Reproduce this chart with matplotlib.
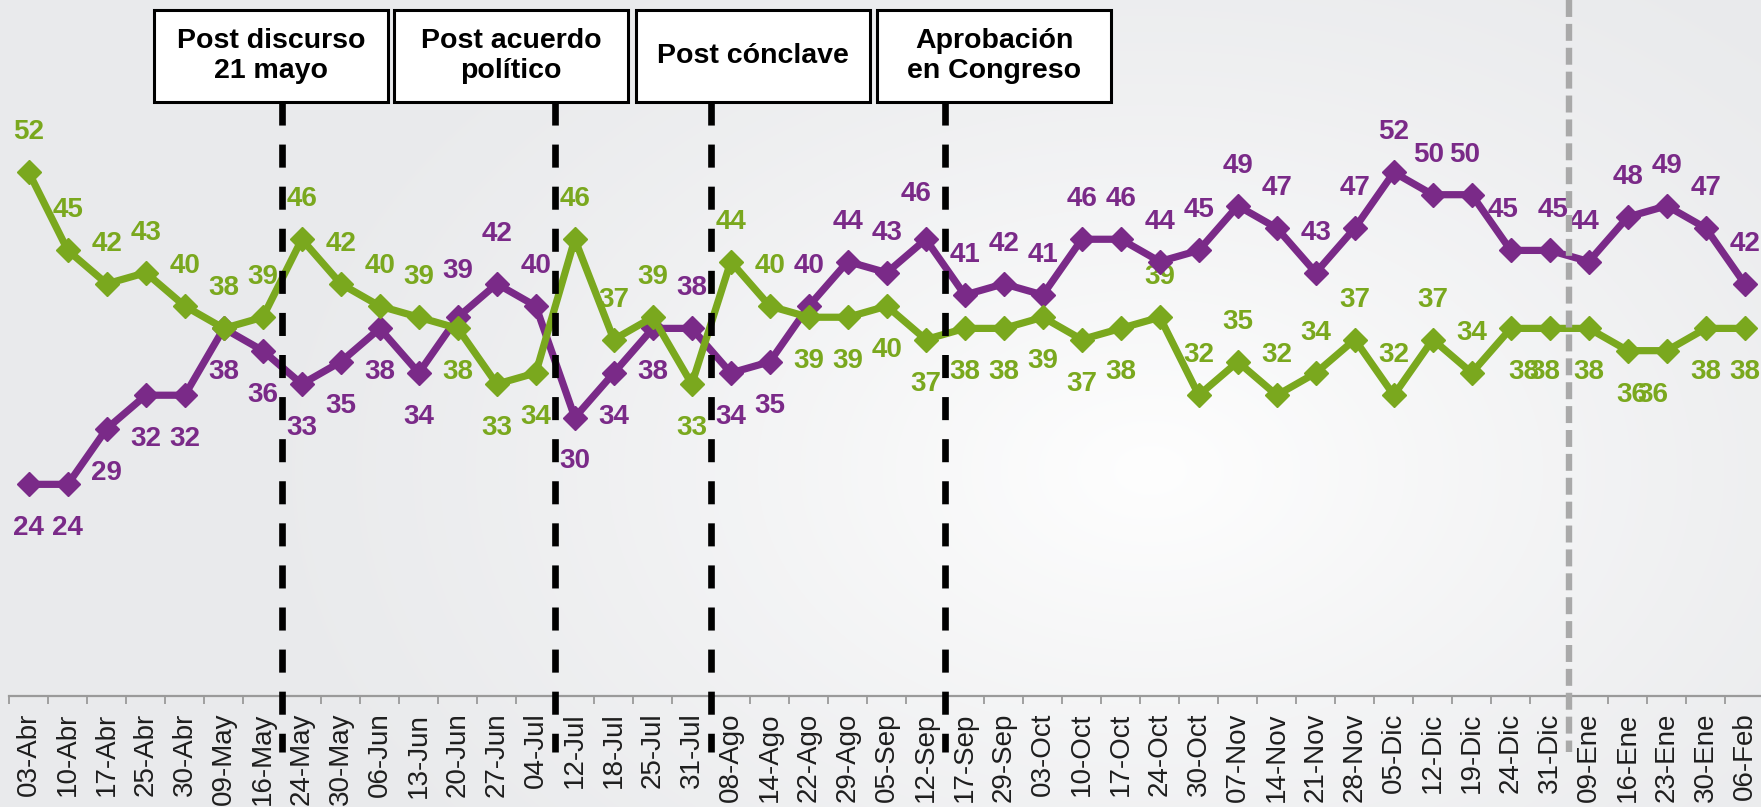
import numpy as np
import matplotlib
matplotlib.use("Agg")
import matplotlib.pyplot as plt
from matplotlib.patches import Rectangle
from matplotlib.lines import Line2D
from matplotlib import transforms

plt.rcParams['font.family'] = ['Liberation Sans', 'DejaVu Sans']
plt.rcParams['lines.scale_dashes'] = False

# ---------------- data ----------------
dates = ['03-Abr', '10-Abr', '17-Abr', '25-Abr', '30-Abr', '09-May', '16-May', '24-May',
         '30-May', '06-Jun', '13-Jun', '20-Jun', '27-Jun', '04-Jul', '12-Jul', '18-Jul',
         '25-Jul', '31-Jul', '08-Ago', '14-Ago', '22-Ago', '29-Ago', '05-Sep', '12-Sep',
         '17-Sep', '29-Sep', '03-Oct', '10-Oct', '17-Oct', '24-Oct', '30-Oct', '07-Nov',
         '14-Nov', '21-Nov', '28-Nov', '05-Dic', '12-Dic', '19-Dic', '24-Dic', '31-Dic',
         '09-Ene', '16-Ene', '23-Ene', '30-Ene', '06-Feb']

purple = [24, 24, 29, 32, 32, 38, 36, 33, 35, 38, 34, 39, 42, 40, 30, 34, 38, 38, 34, 35,
          40, 44, 43, 46, 41, 42, 41, 46, 46, 44, 45, 49, 47, 43, 47, 52, 50, 50, 45, 45,
          44, 48, 49, 47, 42]

green = [52, 45, 42, 43, 40, 38, 39, 46, 42, 40, 39, 38, 33, 34, 46, 37, 39, 33, 44, 40,
         39, 39, 40, 37, 38, 38, 39, 37, 38, 39, 32, 35, 32, 34, 37, 32, 37, 34, 38, 38,
         38, 36, 36, 38, 38]

events = ['Post discurso\n21 mayo', 'Post acuerdo\npolítico', 'Post cónclave',
          'Aprobación\nen Congreso']
event_after = ['16-May', '04-Jul', '31-Jul', '12-Sep']
year_break_after = '31-Dic'

# ---------------- style ----------------
PURPLE = '#7A2A88'
GREEN = '#7AA81E'
W, H = 1761, 807

# label placement: 'a' above, 'b' below
green_pos = list('aaaaaaaaaaabbbaaabaabbbbbbbbbaaaaaaaaabbbbbbb')
purple_pos = list('bbbbbbbbbbbaaabbbabbaaaaaaaaaaaaaaaaaaaaaaaaa')
green_dx = {38: 13, 39: -5, 41: 4, 42: -14}
purple_dx = {36: -4, 37: -7, 38: -8, 39: 3, 40: -5, 23: -10}
purple_dy = {12: 10, 23: 5, 11: 6}

fig = plt.figure(figsize=(W / 100, H / 100), dpi=100)

# background radial gradient
bg = fig.add_axes([0, 0, 1, 1], zorder=-10)
yy, xx = np.mgrid[0:H, 0:W]
d = np.sqrt(((xx - 1150) / 950.0) ** 2 + ((yy - 470) / 640.0) ** 2)
t = np.clip(d, 0, 1)
edge = np.array([233, 234, 236]) / 255.0
center = np.array([254, 254, 254]) / 255.0
f = (1 - t) ** 1.3
img = edge[None, None, :] + (center - edge)[None, None, :] * f[:, :, None]
bg.imshow(img, extent=[0, W, H, 0], aspect='auto', interpolation='bilinear')
bg.set_xlim(0, W)
bg.set_ylim(H, 0)
bg.axis('off')

# main axes
x_left = 9.3
cat_w = 39.0
y_base = 696.0
px_per_unit = 11.14
ymin = 5
ymax = ymin + y_base / px_per_unit
ax = fig.add_axes([x_left / W, (H - y_base) / H, 45 * cat_w / W, y_base / H])
ax.set_facecolor('none')
x = np.arange(len(dates))
ax.set_xlim(-0.5, len(dates) - 0.5)
ax.set_ylim(ymin, ymax)

ax.plot(x, purple, color=PURPLE, lw=5.2, marker='D', ms=12.5, mec=PURPLE, mew=1,
        zorder=3, solid_joinstyle='miter', clip_on=False)
ax.plot(x, green, color=GREEN, lw=5.2, marker='D', ms=12.5, mec=GREEN, mew=1,
        zorder=4, solid_joinstyle='miter', clip_on=False)

def add_labels(vals, pos, dxs, dys, color):
    for i, v in enumerate(vals):
        dy = 40 if pos[i] == 'a' else -44
        dy += dys.get(i, 0)
        ax.annotate(str(v), (i, v), xytext=(dxs.get(i, 0), dy), textcoords='offset pixels',
                    ha='center', va='center', fontsize=20, fontweight='bold', color=color,
                    zorder=2, annotation_clip=False)

add_labels(green, green_pos, green_dx, {}, GREEN)
add_labels(purple, purple_pos, purple_dx, purple_dy, PURPLE)

# axes styling
for s in ['top', 'left', 'right']:
    ax.spines[s].set_visible(False)
ax.spines['bottom'].set_color('#9a9a9a')
ax.spines['bottom'].set_linewidth(1.6)
ax.set_yticks([])
ax.set_xticks(x)
ax.set_xticklabels(dates, rotation=90, fontsize=20, color='#1e1e1e')
ax.set_xticks(np.arange(-0.5, len(dates), 1), minor=True)
ax.tick_params(axis='x', which='major', length=0, pad=12)
ax.tick_params(axis='x', which='minor', length=6, width=1.3, color='#9a9a9a')

# event lines and boxes
trans = transforms.blended_transform_factory(ax.transData, fig.transFigure)
for d_after in event_after:
    xe = dates.index(d_after) + 0.5
    ln = Line2D([xe, xe], [1 - 102 / H, 1 - 752 / H], transform=trans, color='black',
                lw=4.8, linestyle=(0, (16.6, 13.7)), zorder=20)
    fig.add_artist(ln)

xb = dates.index(year_break_after) + 0.5
ln = Line2D([xb, xb], [1.0, 1 - 752 / H], transform=trans, color='#a9a9a9',
            lw=4.6, linestyle=(0, (12.2, 5.0)), zorder=20)
fig.add_artist(ln)

box_left = [154, 394, 636, 877]
box_w = 234
box_top, box_bot = 10, 102
for bl, label in zip(box_left, events):
    r = Rectangle((bl / W, 1 - box_bot / H), box_w / W, (box_bot - box_top) / H,
                  transform=fig.transFigure, facecolor='white', edgecolor='black',
                  lw=2.2, zorder=21)
    fig.add_artist(r)
    fig.text((bl + box_w / 2) / W, 1 - (box_top + box_bot) / 2 / H, label,
             ha='center', va='center', fontsize=20.5, fontweight='bold', color='black',
             linespacing=1.2, zorder=22)

fig.savefig('out.png', dpi=100)
